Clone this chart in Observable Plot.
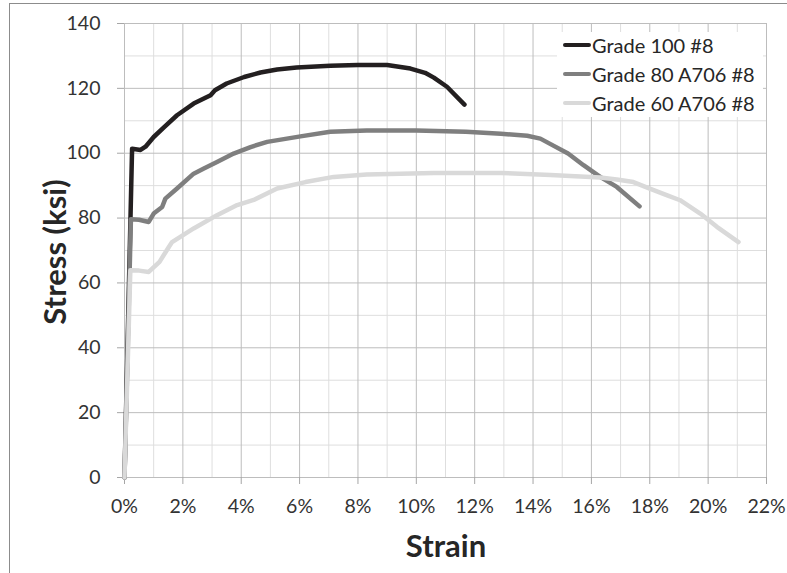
<!DOCTYPE html>
<html>
<head>
<meta charset="utf-8">
<script src="https://cdn.jsdelivr.net/npm/d3@7"></script>
<script src="https://cdn.jsdelivr.net/npm/@observablehq/plot@0.6"></script>
<style>
  html, body { margin: 0; padding: 0; background: #fff; }
  #chart { position: relative; width: 787px; height: 573px; overflow: hidden; font-family: Lato, "Open Sans", sans-serif; }
  #frame { position: absolute; left: 9px; top: 3px; right: -2px; bottom: -2px; border-top: 1px solid #8c8c8c; border-left: 1px solid #8c8c8c; pointer-events: none; }
  #legend { position: absolute; left: 557px; top: 32px; width: 206px; height: 85px; background: #fff; }
  .item { position: absolute; left: 6px; height: 22px; display: flex; align-items: center; font-size: 20px; color: #262626; white-space: nowrap; }
  .swatch { width: 28px; height: 0; border-top-width: 4px; border-top-style: solid; border-radius: 2px; margin-right: 1px; }
</style>
</head>
<body>
<div id="chart"><div id="frame"></div></div>
<script>
// Tensile stress–strain curves for #8 reinforcing bars (strain in %, stress in ksi)
const seriesNames = ["Grade 100 #8", "Grade 80 A706 #8", "Grade 60 A706 #8"];
const seriesColors = ["#231f20", "#7f7f7f", "#d9d9d9"];

const grade100Strain = [0, 0.26, 0.55, 0.72, 1.0, 1.35, 1.8, 2.37, 2.95, 3.1, 3.5, 4.1, 4.66, 5.23, 5.9, 7.05, 8.0, 9.0, 9.8, 10.3, 10.6, 11.05, 11.65];
const grade100Stress = [0, 101.4, 101.0, 102.0, 105.0, 108.0, 111.7, 115.3, 117.9, 119.4, 121.5, 123.5, 124.9, 125.8, 126.4, 127.0, 127.2, 127.2, 126.1, 124.8, 123.3, 120.5, 115.0];

const grade80Strain = [0, 0.22, 0.5, 0.83, 1.0, 1.29, 1.4, 1.8, 2.37, 2.72, 3.17, 3.74, 4.32, 4.89, 6.03, 7.05, 8.3, 10.0, 11.7, 12.9, 13.8, 14.25, 14.6, 15.2, 15.73, 16.3, 16.87, 17.65];
const grade80Stress = [0, 79.6, 79.5, 78.8, 81.4, 83.4, 86.0, 89.1, 93.7, 95.3, 97.3, 99.9, 101.9, 103.5, 105.2, 106.6, 107.0, 107.0, 106.6, 106.0, 105.4, 104.5, 102.8, 99.9, 96.3, 92.7, 89.6, 83.6];

const grade60Strain = [0, 0.2, 0.5, 0.83, 1.2, 1.52, 1.63, 2.37, 3.17, 3.86, 4.43, 5.23, 6.2, 7.17, 8.3, 10.6, 12.9, 14.6, 16.3, 16.87, 17.44, 18.0, 18.6, 19.04, 19.73, 20.3, 21.04];
const grade60Stress = [0, 63.9, 63.8, 63.4, 66.5, 71.1, 72.6, 76.8, 80.9, 84.0, 85.6, 89.1, 91.1, 92.7, 93.4, 93.9, 93.9, 93.3, 92.5, 91.9, 91.1, 89.1, 87.0, 85.5, 81.4, 77.3, 72.6];

const xTicks = d3.range(0, 23, 2);
const yTicks = d3.range(0, 141, 20);
const xMinor = d3.range(1, 22, 2);
const yMinor = d3.range(10, 140, 20);

const toRows = (name, xs, ys) => xs.map((x, i) => ({series: name, strain: x, stress: ys[i]}));
const rows = [
  ...toRows(seriesNames[0], grade100Strain, grade100Stress),
  ...toRows(seriesNames[1], grade80Strain, grade80Stress),
  ...toRows(seriesNames[2], grade60Strain, grade60Stress)
];

const lineFor = (i) => Plot.line(rows.filter(d => d.series === seriesNames[i]), {
  x: "strain", y: "stress", stroke: seriesColors[i], strokeWidth: 4.5,
  strokeLinejoin: "round", strokeLinecap: "round"
});

const chart = Plot.plot({
  width: 787,
  height: 573,
  marginLeft: 124,
  marginRight: 21,
  marginTop: 23,
  marginBottom: 96,
  style: {fontFamily: "Lato, 'Open Sans', sans-serif", background: "transparent", overflow: "visible"},
  x: {domain: [0, 22]},
  y: {domain: [0, 140]},
  marks: [
    Plot.gridX(xMinor, {stroke: "#dedede", strokeOpacity: 1, strokeWidth: 1}),
    Plot.gridY(yMinor, {stroke: "#dedede", strokeOpacity: 1, strokeWidth: 1}),
    Plot.gridX(xTicks, {stroke: "#bdbdbd", strokeOpacity: 1, strokeWidth: 1}),
    Plot.gridY(yTicks, {stroke: "#bdbdbd", strokeOpacity: 1, strokeWidth: 1}),
    Plot.axisX(xTicks, {tickSize: 7, tickPadding: 15, stroke: "#a6a6a6", fill: "#333", fontSize: 19.5,
      tickFormat: d => `${d}%`, label: null}),
    Plot.axisY(yTicks, {tickSize: 7, tickPadding: 17, stroke: "#a6a6a6", fill: "#333", fontSize: 19.5, label: null}),
    lineFor(0),
    lineFor(1),
    lineFor(2)
  ]
});

// axis titles
const svg = d3.select(chart);
svg.append("text").text("Strain")
  .attr("x", 446).attr("y", 557).attr("text-anchor", "middle")
  .attr("font-size", 31).attr("font-weight", "bold").attr("fill", "#262626");
svg.append("text").text("Stress (ksi)")
  .attr("transform", "translate(66,252) rotate(-90)").attr("text-anchor", "middle")
  .attr("font-size", 31).attr("font-weight", "bold").attr("fill", "#262626");

const root = document.getElementById("chart");
root.insertBefore(chart, root.firstChild);

// legend box drawn over the grid
const legend = document.createElement("div");
legend.id = "legend";
seriesNames.forEach((name, i) => {
  const item = document.createElement("div");
  item.className = "item";
  item.style.top = (2 + i * 29) + "px";
  const sw = document.createElement("span");
  sw.className = "swatch";
  sw.style.borderTopColor = seriesColors[i];
  item.appendChild(sw);
  item.appendChild(document.createTextNode(name));
  legend.appendChild(item);
});
root.appendChild(legend);
</script>
</body>
</html>
